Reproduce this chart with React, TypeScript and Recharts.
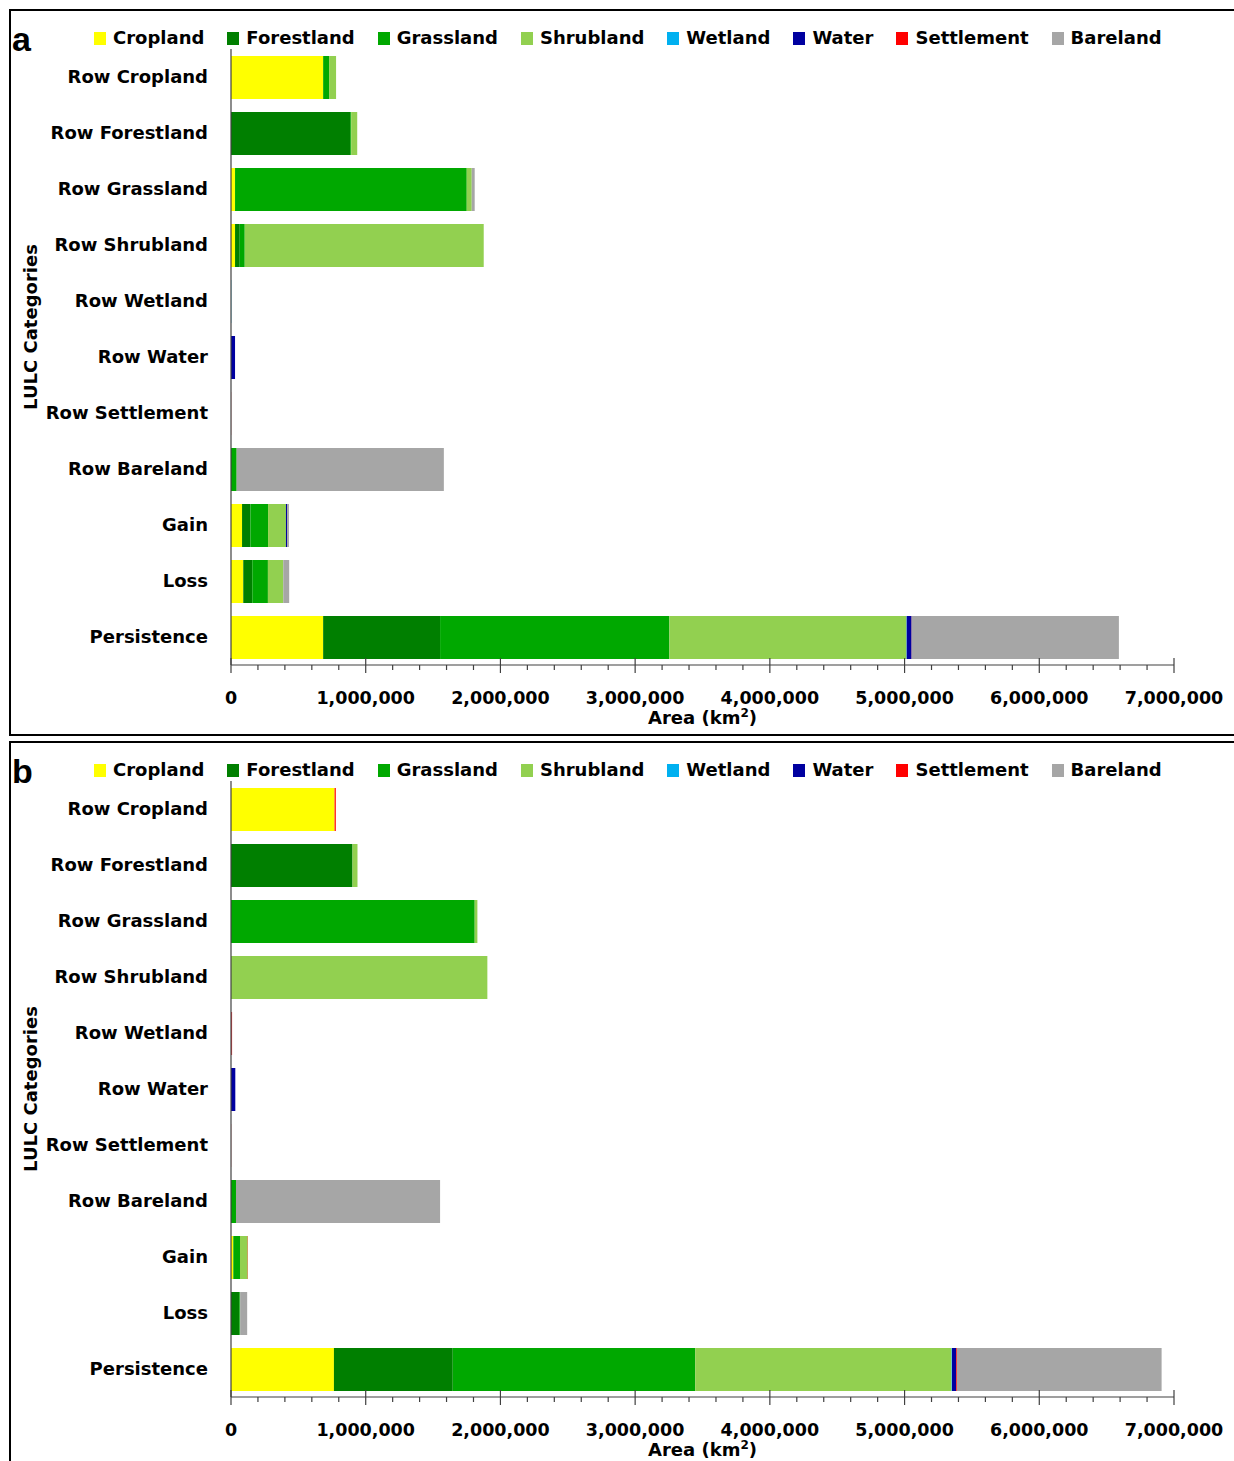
import React from 'react';
import { BarChart, Bar, XAxis, YAxis, Legend } from 'recharts';

const FONT = '"DejaVu Sans", Verdana, sans-serif';

const categories = [
  'Row Cropland',
  'Row Forestland',
  'Row Grassland',
  'Row Shrubland',
  'Row Wetland',
  'Row Water',
  'Row Settlement',
  'Row Bareland',
  'Gain',
  'Loss',
  'Persistence',
];

const classNames = ['Cropland', 'Forestland', 'Grassland', 'Shrubland', 'Wetland', 'Water', 'Settlement', 'Bareland'];
const classColors = ['#FFFF00', '#007F00', '#00A800', '#92D050', '#00B0F0', '#0000A0', '#FF0000', '#A6A6A6'];

// x axis: labelled ticks every 1,000,000, small ticks every 200,000
const majorTicks = [0, 1000000, 2000000, 3000000, 4000000, 5000000, 6000000, 7000000];
const minorSteps = [200000, 400000, 600000, 800000];

// panel a (values in km2, one entry per category above)
const croplandA = [684000, 0, 30000, 30000, 0, 0, 0, 0, 82000, 91000, 684000];
const forestlandA = [0, 885000, 0, 35000, 0, 0, 0, 0, 62000, 67000, 868000];
const grasslandA = [44000, 7000, 1720000, 37000, 0, 0, 0, 42000, 131000, 116000, 1702000];
const shrublandA = [52000, 45000, 37000, 1774000, 0, 0, 0, 0, 133000, 114000, 1760000];
const wetlandA = [0, 0, 0, 0, 2000, 0, 0, 0, 0, 0, 2000];
const waterA = [0, 0, 0, 0, 0, 30000, 0, 0, 8000, 0, 36000];
const settlementA = [0, 0, 0, 0, 0, 0, 1000, 0, 0, 0, 1000];
const barelandA = [0, 0, 22000, 0, 0, 0, 0, 1538000, 14000, 44000, 1538000];

// panel b
const croplandB = [769000, 0, 0, 0, 0, 0, 0, 0, 17000, 0, 764000];
const forestlandB = [0, 902000, 0, 0, 0, 0, 0, 0, 0, 62000, 882000];
const grasslandB = [0, 0, 1809000, 0, 0, 0, 0, 37000, 50000, 6000, 1800000];
const shrublandB = [0, 37000, 20000, 1903000, 0, 0, 0, 0, 57000, 0, 1903000];
const wetlandB = [0, 0, 0, 0, 2000, 0, 0, 0, 0, 0, 3000];
const waterB = [0, 0, 0, 0, 0, 32000, 0, 0, 0, 0, 30000];
const settlementB = [9000, 0, 0, 0, 6000, 0, 1000, 0, 2000, 0, 6000];
const barelandB = [0, 0, 0, 0, 0, 0, 0, 1515000, 0, 52000, 1520000];

const seriesA = [croplandA, forestlandA, grasslandA, shrublandA, wetlandA, waterA, settlementA, barelandA];
const seriesB = [croplandB, forestlandB, grasslandB, shrublandB, wetlandB, waterB, settlementB, barelandB];

const allTicks = majorTicks.flatMap((t) => (t < 7000000 ? [t, ...minorSteps.map((s) => t + s)] : [t]));

const buildRows = (series: number[][]) =>
  categories.map((name, i) => {
    const row: Record<string, string | number> = { name };
    classNames.forEach((c, j) => {
      row[c] = series[j][i];
    });
    return row;
  });

const CategoryTick = (props: any) => {
  const { x, y, payload } = props;
  return (
    <text x={x - 23} y={y} dy="0.36em" textAnchor="end" fontFamily={FONT} fontWeight="bold" fontSize={18} fill="#000">
      {payload.value}
    </text>
  );
};

const AreaTick = (props: any) => {
  const { x, y, payload } = props;
  const major = payload.value % 1000000 === 0;
  return (
    <g>
      <line x1={x} x2={x} y1={major ? y - 7 : y} y2={major ? y + 8 : y + 5} stroke="#404040" strokeWidth={1.2} />
      {major && (
        <text x={x} y={y + 39} textAnchor="middle" fontFamily={FONT} fontWeight="bold" fontSize={17.5} fill="#000">
          {payload.value.toLocaleString('en-US')}
        </text>
      )}
    </g>
  );
};

const LegendRow = () => (
  <div
    style={{
      display: 'flex',
      alignItems: 'center',
      fontFamily: FONT,
      fontWeight: 'bold',
      fontSize: 18,
      color: '#000',
      whiteSpace: 'nowrap',
      lineHeight: '24px',
    }}
  >
    {classNames.map((n, i) => (
      <div key={n} style={{ display: 'flex', alignItems: 'center', marginRight: 23 }}>
        <span style={{ display: 'inline-block', width: 12, height: 13, background: classColors[i], marginRight: 7 }} />
        <span>{n}</span>
      </div>
    ))}
  </div>
);

const Panel = ({ letter, series, top, yLabelCenter }: { letter: string; series: number[][]; top: number; yLabelCenter: number }) => {
  const data = buildRows(series);
  return (
    <>
      <div
        style={{
          position: 'absolute',
          left: 9,
          top: top + 9,
          width: 1240,
          height: 727,
          border: '2px solid #000',
          boxSizing: 'border-box',
        }}
      />
      <div
        style={{
          position: 'absolute',
          left: 12,
          top: top + 22,
          fontFamily: '"Liberation Sans", Arial, sans-serif',
          fontWeight: 'bold',
          fontSize: 34,
          lineHeight: '34px',
        }}
      >
        {letter}
      </div>
      <div style={{ position: 'absolute', left: 0, top }}>
        <BarChart
          width={1234}
          height={731}
          data={data}
          layout="vertical"
          margin={{ top: 49, right: 60, bottom: 0, left: 0 }}
        >
          <XAxis
            type="number"
            domain={[0, 7000000]}
            ticks={allTicks}
            interval={0}
            height={66}
            tickLine={false}
            tickSize={0}
            tickMargin={0}
            axisLine={{ stroke: '#404040', strokeWidth: 1.2 }}
            tick={<AreaTick />}
            label={{
              content: (p: any) => {
                const vb = p.viewBox || {};
                const cx = vb.x + vb.width / 2;
                return (
                  <text x={cx} y={vb.y + 59} textAnchor="middle" fontFamily={FONT} fontWeight="bold" fontSize={18} fill="#000">
                    Area (km
                    <tspan dy={-7} fontSize={12}>
                      2
                    </tspan>
                    <tspan dy={7}>)</tspan>
                  </text>
                );
              },
            }}
          />
          <YAxis
            type="category"
            dataKey="name"
            width={231}
            tickLine={false}
            tickSize={0}
            tickMargin={0}
            interval={0}
            axisLine={{ stroke: '#404040', strokeWidth: 1.2 }}
            tick={<CategoryTick />}
            label={{
              content: () => (
                <text
                  x={37}
                  y={yLabelCenter}
                  transform={`rotate(-90 37 ${yLabelCenter})`}
                  textAnchor="middle"
                  fontFamily={FONT}
                  fontWeight="bold"
                  fontSize={18}
                  fill="#000"
                >
                  LULC Categories
                </text>
              ),
            }}
          />
          <Legend
            layout="horizontal"
            verticalAlign="middle"
            align="center"
            content={<LegendRow />}
            wrapperStyle={{ top: 26, left: 94, width: 1130, height: 24 }}
          />
          {classNames.map((c, i) => (
            <Bar key={c} dataKey={c} name={c} stackId="lulc" fill={classColors[i]} barSize={43} isAnimationActive={false} />
          ))}
        </BarChart>
      </div>
    </>
  );
};

export default function App() {
  return (
    <div
      style={{
        position: 'absolute',
        left: 0,
        top: 0,
        width: 1234,
        height: 1461,
        overflow: 'hidden',
        background: '#fff',
      }}
    >
      <Panel letter="a" series={seriesA} top={0} yLabelCenter={327} />
      <Panel letter="b" series={seriesB} top={732} yLabelCenter={357} />
    </div>
  );
}
